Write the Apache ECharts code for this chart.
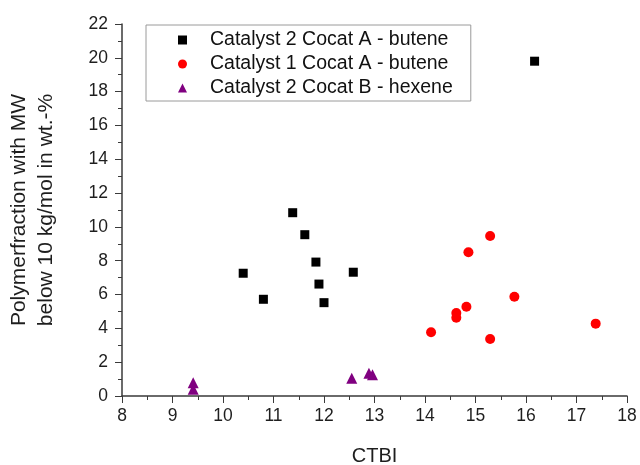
<!DOCTYPE html>
<html>
<head>
<meta charset="utf-8">
<script src="https://cdn.jsdelivr.net/npm/echarts@6/dist/echarts.min.js"></script>
<style>
  html, body { margin: 0; padding: 0; background: #fff; }
  #chart { width: 640px; height: 465px; }
</style>
</head>
<body>
<div id="chart"></div>
<script>
// 数据 (CTBI, wt.-%)
var seriesNames = [
  "Catalyst 2 Cocat A - butene",
  "Catalyst 1 Cocat A - butene",
  "Catalyst 2 Cocat B - hexene"
];
var cat2ButeneData = [
  [10.40, 7.26], [10.80, 5.72], [11.38, 10.84], [11.62, 9.54],
  [11.84, 7.92], [11.90, 6.62], [12.00, 5.52], [12.58, 7.32],
  [16.17, 19.8]
];
var cat1ButeneData = [
  [15.29, 9.46], [14.86, 8.50], [15.77, 5.87], [14.82, 5.28],
  [14.62, 4.91], [14.62, 4.63], [14.12, 3.77], [15.29, 3.37],
  [17.38, 4.28]
];
var cat2HexeneData = [
  [9.41, 0.79], [9.41, 0.40], [12.55, 1.05], [12.89, 1.34], [12.96, 1.26]
];
var xTicks = [8, 18, 1];   // min, max, interval
var yTicks = [0, 22, 2];

var myChart = echarts.init(document.getElementById("chart"));

var axisColor = "#3a3a3a";
var labelColor = "#1e1e1e";
var font = "Liberation Sans, Arial, sans-serif";

var option = {
  animation: false,
  grid: { left: 122, right: 13, top: 24, bottom: 69, outerBoundsMode: "none" },
  legend: {
    orient: "vertical",
    left: 146,
    top: 25,
    itemGap: 4,
    itemWidth: 9,
    itemHeight: 9,
    padding: [5, 18, 3, 32],
    borderColor: "#9a9a9a",
    borderWidth: 1,
    textStyle: { fontSize: 19.5, color: "#111", fontFamily: font, padding: [0, 0, 0, 18] },
    data: [
      { name: seriesNames[0], icon: "rect" },
      { name: seriesNames[1], icon: "circle" },
      { name: seriesNames[2], icon: "triangle" }
    ]
  },
  xAxis: {
    type: "value",
    min: xTicks[0],
    max: xTicks[1],
    interval: xTicks[2],
    name: "CTBI",
    nameLocation: "middle",
    nameGap: 50,
    nameTextStyle: { fontSize: 20, color: labelColor, fontFamily: font },
    axisLine: { show: true, onZero: false, lineStyle: { color: axisColor, width: 1.5 } },
    axisTick: { show: true, inside: false, length: 7, lineStyle: { color: axisColor } },
    minorTick: { show: true, splitNumber: 2, length: 4, lineStyle: { color: axisColor } },
    axisLabel: { fontSize: 17.5, color: labelColor, fontFamily: font, margin: 11 },
    splitLine: { show: false }
  },
  yAxis: {
    type: "value",
    min: yTicks[0],
    max: yTicks[1],
    interval: yTicks[2],
    name: "Polymerfraction with MW\nbelow 10 kg/mol in wt.-%",
    nameLocation: "middle",
    nameGap: 62,
    nameTextStyle: { fontSize: 21, color: labelColor, fontFamily: font, lineHeight: 27 },
    axisLine: { show: true, onZero: false, lineStyle: { color: axisColor, width: 1.5 } },
    axisTick: { show: true, inside: false, length: 7, lineStyle: { color: axisColor } },
    minorTick: { show: true, splitNumber: 2, length: 4, lineStyle: { color: axisColor } },
    axisLabel: { fontSize: 17.5, color: labelColor, fontFamily: font, margin: 14 },
    splitLine: { show: false }
  },
  series: [
    {
      name: seriesNames[0],
      type: "scatter",
      symbol: "rect",
      symbolSize: 9,
      itemStyle: { color: "#000", opacity: 1 },
      data: cat2ButeneData
    },
    {
      name: seriesNames[1],
      type: "scatter",
      symbol: "circle",
      symbolSize: 10,
      itemStyle: { color: "#ff0000", opacity: 1 },
      data: cat1ButeneData
    },
    {
      name: seriesNames[2],
      type: "scatter",
      symbol: "triangle",
      symbolSize: 11,
      itemStyle: { color: "#800080", opacity: 1 },
      data: cat2HexeneData
    }
  ]
};

myChart.setOption(option);
</script>
</body>
</html>
